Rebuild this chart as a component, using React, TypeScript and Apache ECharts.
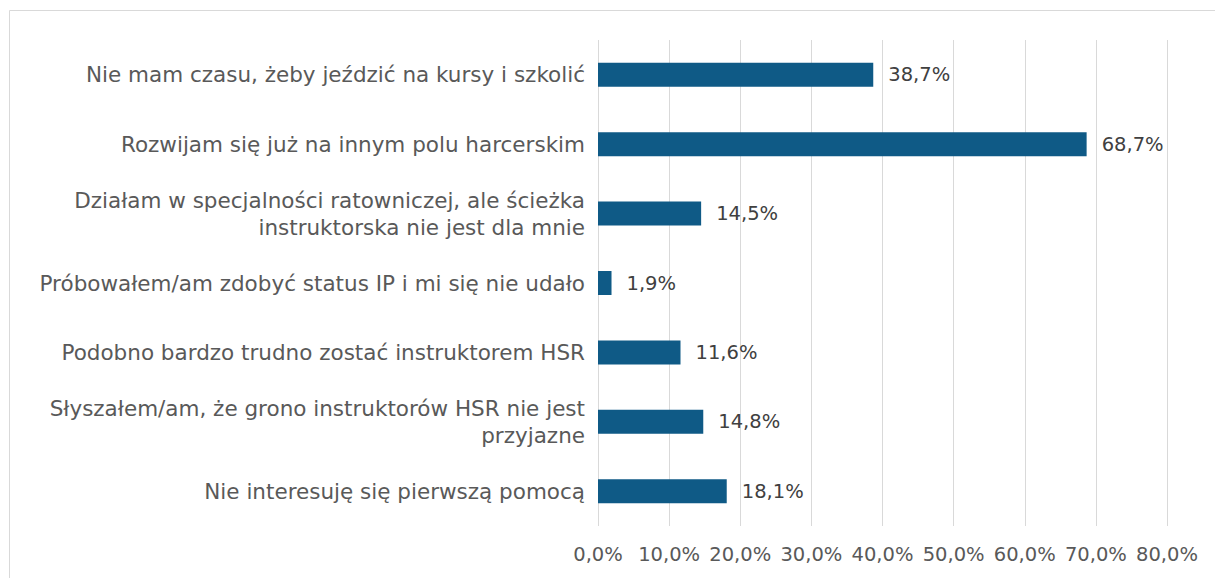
import React, { useEffect, useRef } from "react";
import * as echarts from "echarts";

const categories = [
  "Nie mam czasu, żeby jeździć na kursy i szkolić",
  "Rozwijam się już na innym polu harcerskim",
  "Działam w specjalności ratowniczej, ale ścieżka\ninstruktorska nie jest dla mnie",
  "Próbowałem/am zdobyć status IP i mi się nie udało",
  "Podobno bardzo trudno zostać instruktorem HSR",
  "Słyszałem/am, że grono instruktorów HSR nie jest\nprzyjazne",
  "Nie interesuję się pierwszą pomocą",
];
const values = [38.7, 68.7, 14.5, 1.9, 11.6, 14.8, 18.1];
const axisMin = 0;
const axisMax = 80;
const axisStep = 10;

const FONT = "'DejaVu Sans', sans-serif";
const fmt = (v: number, d: number) => v.toFixed(d).replace(".", ",") + "%";

export default function App() {
  const ref = useRef<HTMLDivElement>(null);
  useEffect(() => {
    if (!ref.current) return;
    const chart = echarts.init(ref.current, null, { renderer: "svg" });
    chart.setOption({
      animation: false,
      backgroundColor: "#ffffff",
      graphic: [
        {
          type: "rect",
          shape: { x: 9.5, y: 10.5, width: 1400, height: 800 },
          style: { fill: "none", stroke: "#d9d9d9", lineWidth: 1 },
          silent: true,
        },
      ],
      grid: { left: 598, right: 48, top: 40, bottom: 52, containLabel: false },
      xAxis: {
        type: "value",
        min: axisMin,
        max: axisMax,
        interval: axisStep,
        axisLine: { show: false },
        axisTick: { show: false },
        splitLine: { show: true, lineStyle: { color: "#d9d9d9", width: 1 } },
        axisLabel: {
          formatter: (v: number) => fmt(v, 1),
          color: "#595959",
          fontFamily: FONT,
          fontSize: 19.5,
          margin: 18,
        },
      },
      yAxis: {
        type: "category",
        data: categories,
        inverse: true,
        axisLine: { show: false },
        axisTick: { show: false },
        splitLine: { show: false },
        axisLabel: {
          color: "#595959",
          fontFamily: FONT,
          fontSize: 21.5,
          lineHeight: 27,
          margin: 13,
          align: "right",
        },
      },
      series: [
        {
          type: "bar",
          data: values,
          barWidth: 24,
          itemStyle: { color: "#0f5a86" },
          label: {
            show: true,
            position: "right",
            distance: 15,
            formatter: (p: any) => fmt(p.value, 1),
            color: "#404040",
            fontFamily: FONT,
            fontSize: 19.5,
          },
        },
      ],
    });
    return () => chart.dispose();
  }, []);
  return (
    <div
      ref={ref}
      style={{ position: "fixed", left: 0, top: 0, width: 1215, height: 578 }}
    />
  );
}
